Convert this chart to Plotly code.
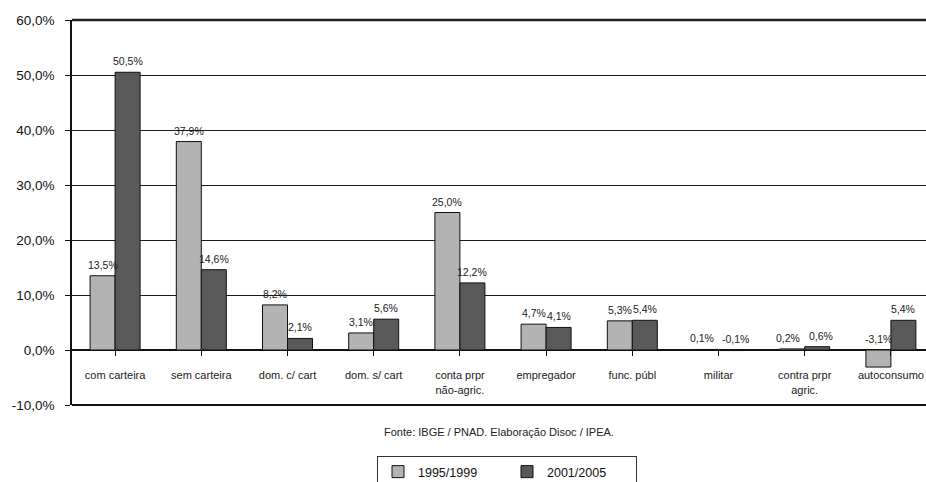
import plotly.graph_objects as go

categories = ["com carteira", "sem carteira", "dom. c/ cart", "dom. s/ cart",
              "conta prpr<br>não-agric.", "empregador", "func. públ", "militar",
              "contra prpr<br>agric.", "autoconsumo"]
series_names = ["1995/1999", "2001/2005"]
values_9599 = [13.5, 37.9, 8.2, 3.1, 25.0, 4.7, 5.3, 0.1, 0.2, -3.1]
values_0105 = [50.5, 14.6, 2.1, 5.6, 12.2, 4.1, 5.4, -0.1, 0.6, 5.4]
y_ticks = [-10, 0, 10, 20, 30, 40, 50, 60]
colors = ["#b3b3b3", "#595959"]
source_text = "Fonte: IBGE / PNAD. Elaboração Disoc / IPEA."

W, H = 926, 482
ML, MR, MT, MB = 72, 0, 20, 77
cat_px = 86.2
plot_w = W - ML - MR
plot_h = H - MT - MB
x_end = -0.5 + plot_w / cat_px
bargap = 0.42
bar_w = (1 - bargap) / 2

def fmt(v):
    return ("%.1f%%" % v).replace(".", ",")

series = [values_9599, values_0105]

fig = go.Figure()
for name, vals, col in zip(series_names, series, colors):
    fig.add_trace(go.Bar(
        x=list(range(len(categories))), y=vals, name=name,
        marker=dict(color=col, line=dict(color="#111111", width=1)),
    ))

annotations = []
for k, vals in enumerate(series):
    off = (-0.5 + k) * bar_w
    for i, v in enumerate(vals):
        both_small = abs(series[0][i]) < 1 and abs(series[1][i]) < 1
        annotations.append(dict(
            x=i + off, y=max(v, 0), xref="x", yref="y", text=fmt(v),
            showarrow=False, yanchor="bottom", yshift=3,
            xshift=(-4 + 8 * k) if both_small else 0,
            font=dict(size=10.5, color="#222222", family="Liberation Sans, Arial, sans-serif"),
        ))
annotations.append(dict(
    x=0.5, y=-27 / plot_h, xref="paper", yref="paper", text=source_text,
    showarrow=False, yanchor="middle", xanchor="center",
    font=dict(size=11, color="#222222", family="Liberation Sans, Arial, sans-serif"),
))

zero_frac = (0 - y_ticks[0]) / (y_ticks[-1] - y_ticks[0])

fig.update_layout(
    width=W, height=H,
    margin=dict(l=ML, r=MR, t=MT, b=MB, autoexpand=False),
    plot_bgcolor="white", paper_bgcolor="white",
    barmode="group", bargap=bargap, bargroupgap=0,
    font=dict(family="Liberation Sans, Arial, sans-serif", color="#222222"),
    separators=",.",
    xaxis=dict(
        tickmode="array", tickvals=list(range(len(categories))), ticktext=categories,
        range=[-0.5, x_end], anchor="free", position=zero_frac,
        showline=False, showgrid=False, zeroline=False,
        ticks="outside", ticklen=5, tickcolor="#111111", tickson="boundaries",
        tickfont=dict(size=11, color="#222222"), ticklabelstandoff=10,
    ),
    yaxis=dict(
        range=[y_ticks[0], y_ticks[-1]], tickvals=y_ticks,
        ticktext=[fmt(v) for v in y_ticks],
        showgrid=True, gridcolor="#1a1a1a", gridwidth=1,
        zeroline=True, zerolinecolor="#111111", zerolinewidth=1.5,
        showline=True, linecolor="#111111", linewidth=1.5,
        ticks="outside", ticklen=5, tickcolor="#111111",
        tickfont=dict(size=13.5, color="#111111"), ticklabelstandoff=8,
    ),
    legend=dict(
        orientation="h", x=(377 - ML) / plot_w, y=-51 / plot_h,
        xanchor="left", yanchor="top",
        bordercolor="#333333", borderwidth=1, bgcolor="white",
        font=dict(size=12.5, color="#111111"),
        entrywidth=84, entrywidthmode="pixels",
    ),
    annotations=annotations,
    shapes=[
        dict(type="line", xref="paper", yref="paper", x0=0, x1=1, y0=1, y1=1,
             line=dict(color="#222222", width=2.5)),
        dict(type="line", xref="paper", yref="paper", x0=0, x1=1, y0=0, y1=0,
             line=dict(color="#111111", width=2)),
    ],
    showlegend=True,
)

fig.write_html("out.html")
